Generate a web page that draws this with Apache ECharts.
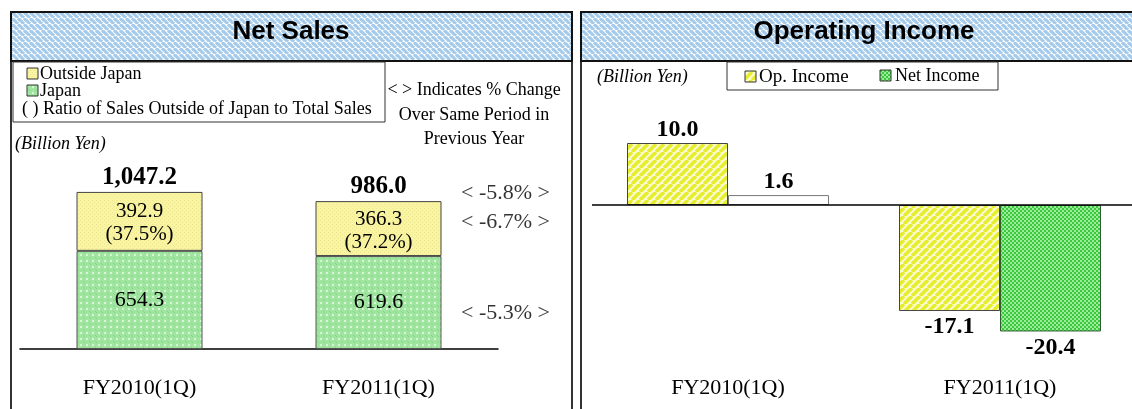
<!DOCTYPE html>
<html>
<head>
<meta charset="utf-8">
<script src="https://cdn.jsdelivr.net/npm/echarts@6/dist/echarts.min.js"></script>
<style>
  html, body { margin: 0; padding: 0; background: #fff; }
  #chart { width: 1132px; height: 409px; }
</style>
</head>
<body>
<div id="chart"></div>
<script>
const categories = ['FY2010(1Q)', 'FY2011(1Q)']
const outsideJapan = [392.9, 366.3]
const japan = [654.3, 619.6]
const totalSales = [1047.2, 986.0]
const outsideRatio = ['37.5%', '37.2%']
// total, outside japan, japan
const salesChange = ['-5.8%', '-6.7%', '-5.3%']
const opIncome = [10.0, -17.1]
const netIncome = [1.6, -20.4]

const SERIF = 'Liberation Serif'
const SANS = 'Liberation Sans'

// small canvas tiles used as fill patterns
function pattern(size, bg, draw) {
  const c = document.createElement('canvas')
  c.width = size
  c.height = size
  const g = c.getContext('2d')
  g.fillStyle = bg
  g.fillRect(0, 0, size, size)
  draw(g, size)
  return { image: c, repeat: 'repeat' }
}

function stripes(size, bg, fg, width, dir) {
  return pattern(size, bg, (g, s) => {
    g.strokeStyle = fg
    g.lineWidth = width
    for (let k = -1; k <= 1; k++) {
      g.beginPath()
      if (dir > 0) {
        g.moveTo(k * s, s)
        g.lineTo(k * s + s, 0)
      } else {
        g.moveTo(k * s, 0)
        g.lineTo(k * s + s, s)
      }
      g.stroke()
    }
  })
}

const titleFill = stripes(6, '#ffffff', '#a6cbea', 3.2, -1)
const opFill = stripes(8, '#fbfbd2', '#e6ee2c', 3.6, 1)
const outsideFill = pattern(4, '#f9f4a2', (g) => {
  g.fillStyle = '#ede68e'
  g.fillRect(0, 0, 1, 1)
  g.fillRect(2, 2, 1, 1)
})
const japanFill = pattern(6, '#9fe49f', (g) => {
  g.fillStyle = '#d6f6d6'
  g.fillRect(2, 2, 2, 2)
  g.fillStyle = '#86d486'
  g.fillRect(0, 0, 1, 1)
  g.fillRect(5, 5, 1, 1)
})
const netFill = pattern(4, '#3cc83c', (g) => {
  g.fillStyle = '#9aeb9a'
  g.fillRect(0, 0, 2, 2)
  g.fillRect(2, 2, 2, 2)
})

function fmt(v) {
  return v.toLocaleString('en-US', { minimumFractionDigits: 1, maximumFractionDigits: 1 })
}

const bigBold = { fontFamily: SERIF, fontWeight: 'bold', fontSize: 24, color: '#000' }
const plain = { fontFamily: SERIF, fontSize: 21, color: '#000' }

const chart = echarts.init(document.getElementById('chart'))

const option = {
  animation: false,
  grid: [
    { left: 20, width: 478, top: 139, height: 210, outerBoundsMode: 'none' },
    { left: 592, width: 544, top: 112, height: 248, outerBoundsMode: 'none' }
  ],
  xAxis: [
    {
      gridIndex: 0,
      type: 'category',
      data: categories,
      axisTick: { show: false },
      axisLine: { lineStyle: { color: '#000', width: 1.5 } },
      axisLabel: { margin: 28, fontFamily: SERIF, fontSize: 22, color: '#000' }
    },
    {
      gridIndex: 1,
      type: 'category',
      data: categories,
      axisTick: { show: false },
      axisLine: { show: false, onZero: false },
      axisLabel: { margin: 17, fontFamily: SERIF, fontSize: 22, color: '#000' }
    }
  ],
  yAxis: [
    { gridIndex: 0, type: 'value', min: 0, max: 1400, show: false },
    { gridIndex: 1, type: 'value', min: -25, max: 15, show: false }
  ],
  series: [
    {
      name: 'Japan',
      type: 'bar',
      xAxisIndex: 0,
      yAxisIndex: 0,
      stack: 'sales',
      barWidth: 126,
      data: japan,
      itemStyle: { color: japanFill, borderColor: '#555', borderWidth: 1 },
      label: { show: true, position: 'inside', ...plain, fontSize: 22, formatter: (p) => fmt(p.value) }
    },
    {
      name: 'Outside Japan',
      type: 'bar',
      xAxisIndex: 0,
      yAxisIndex: 0,
      stack: 'sales',
      barWidth: 126,
      data: outsideJapan,
      itemStyle: { color: outsideFill, borderColor: '#444', borderWidth: 1 },
      label: {
        show: true,
        position: 'inside',
        ...plain,
        lineHeight: 23,
        offset: [0, 2],
        formatter: (p) => fmt(p.value) + '\n(' + outsideRatio[p.dataIndex] + ')'
      }
    },
    {
      name: 'Total',
      type: 'bar',
      xAxisIndex: 0,
      yAxisIndex: 0,
      barWidth: 126,
      barGap: '-100%',
      silent: true,
      data: totalSales,
      itemStyle: { color: 'rgba(0,0,0,0)' },
      label: { show: true, position: 'top', distance: 2, ...bigBold, fontSize: 25, formatter: (p) => fmt(p.value) }
    },
    {
      name: 'Change',
      type: 'scatter',
      xAxisIndex: 0,
      yAxisIndex: 0,
      symbolSize: 0,
      silent: true,
      data: [
        { value: [1, totalSales[1]], label: { offset: [127, -8] } },
        { value: [1, japan[1] + outsideJapan[1] / 2], label: { offset: [127, -6] } },
        { value: [1, japan[1] / 2], label: { offset: [127, 11] } }
      ],
      label: {
        show: true,
        position: 'inside',
        ...plain,
        fontSize: 22,
        formatter: (p) => '< ' + salesChange[p.dataIndex] + ' >'
      }
    },
    {
      name: 'Op. Income',
      type: 'bar',
      xAxisIndex: 1,
      yAxisIndex: 1,
      barWidth: 101,
      barGap: '0%',
      data: opIncome,
      itemStyle: { color: opFill, borderColor: '#444', borderWidth: 1 },
      label: {
        show: true,
        ...bigBold,
        formatter: (p) => fmt(p.value),
        position: 'top',
        distance: 1
      },
      labelLayout: (p) => null,
      markLine: {
        silent: true,
        symbol: 'none',
        label: { show: false },
        lineStyle: { color: '#000', width: 1.5, type: 'solid' },
        data: [{ yAxis: 0 }]
      }
    },
    {
      name: 'Net Income',
      type: 'bar',
      xAxisIndex: 1,
      yAxisIndex: 1,
      barWidth: 101,
      barGap: '0%',
      data: netIncome.map((v, i) => (v >= 0
        ? { value: v, itemStyle: { color: '#ffffff', borderColor: '#777' } }
        : { value: v })),
      itemStyle: { color: netFill, borderColor: '#2f5f2f', borderWidth: 1 },
      label: { show: true, ...bigBold, formatter: (p) => fmt(p.value), position: 'top', distance: 1 }
    }
  ],
  graphic: [
    // panel frames
    { type: 'line', shape: { x1: 11, y1: 61, x2: 11, y2: 409 }, style: { stroke: '#333', lineWidth: 2 } },
    { type: 'line', shape: { x1: 572, y1: 61, x2: 572, y2: 409 }, style: { stroke: '#333', lineWidth: 2 } },
    { type: 'line', shape: { x1: 581, y1: 61, x2: 581, y2: 409 }, style: { stroke: '#333', lineWidth: 2 } },
    // title bars
    { type: 'rect', shape: { x: 11, y: 12, width: 561, height: 49 }, style: { fill: titleFill, stroke: '#111', lineWidth: 2 } },
    { type: 'rect', shape: { x: 581, y: 12, width: 560, height: 49 }, style: { fill: titleFill, stroke: '#111', lineWidth: 2 } },
    { type: 'text', x: 291, y: 32, style: { text: 'Net Sales', font: 'bold 26px ' + SANS, fill: '#000', align: 'center', verticalAlign: 'middle' } },
    { type: 'text', x: 864, y: 32, style: { text: 'Operating Income', font: 'bold 26px ' + SANS, fill: '#000', align: 'center', verticalAlign: 'middle' } },

    // net sales legend
    { type: 'rect', shape: { x: 13, y: 62, width: 372, height: 60 }, style: { fill: '#fff', stroke: '#333', lineWidth: 1 } },
    { type: 'rect', shape: { x: 27, y: 68, width: 11, height: 11 }, style: { fill: outsideFill, stroke: '#333', lineWidth: 1 } },
    { type: 'rect', shape: { x: 27, y: 85, width: 11, height: 11 }, style: { fill: japanFill, stroke: '#333', lineWidth: 1 } },
    { type: 'text', x: 40, y: 74, style: { text: 'Outside Japan', font: '18px ' + SERIF, fill: '#000', verticalAlign: 'middle' } },
    { type: 'text', x: 40, y: 91, style: { text: 'Japan', font: '18px ' + SERIF, fill: '#000', verticalAlign: 'middle' } },
    { type: 'text', x: 22, y: 109, style: { text: '( ) Ratio of Sales Outside of Japan to Total Sales', font: '18px ' + SERIF, fill: '#000', verticalAlign: 'middle' } },
    { type: 'text', x: 474, y: 90, style: { text: '< > Indicates % Change', font: '18px ' + SERIF, fill: '#000', align: 'center', verticalAlign: 'middle' } },
    { type: 'text', x: 474, y: 115, style: { text: 'Over Same Period in', font: '18px ' + SERIF, fill: '#000', align: 'center', verticalAlign: 'middle' } },
    { type: 'text', x: 474, y: 139, style: { text: 'Previous Year', font: '18px ' + SERIF, fill: '#000', align: 'center', verticalAlign: 'middle' } },
    { type: 'text', x: 15, y: 144, style: { text: '(Billion Yen)', font: 'italic 18px ' + SERIF, fill: '#000', verticalAlign: 'middle' } },

    // operating income legend
    { type: 'text', x: 597, y: 77, style: { text: '(Billion Yen)', font: 'italic 18px ' + SERIF, fill: '#000', verticalAlign: 'middle' } },
    { type: 'rect', shape: { x: 727, y: 62, width: 271, height: 28 }, style: { fill: '#fff', stroke: '#333', lineWidth: 1 } },
    { type: 'rect', shape: { x: 745, y: 71, width: 11, height: 11 }, style: { fill: opFill, stroke: '#333', lineWidth: 1 } },
    { type: 'rect', shape: { x: 880, y: 70, width: 11, height: 11 }, style: { fill: netFill, stroke: '#333', lineWidth: 1 } },
    { type: 'text', x: 759, y: 77, style: { text: 'Op. Income', font: '19px ' + SERIF, fill: '#000', verticalAlign: 'middle' } },
    { type: 'text', x: 895, y: 76, style: { text: 'Net Income', font: '18px ' + SERIF, fill: '#000', verticalAlign: 'middle' } }
  ]
}

// negative bars get their value under the bar
option.series.forEach((s) => {
  if (s.xAxisIndex === 1) {
    const src = s === option.series[4] ? opIncome : netIncome
    s.data = s.data.map((d, i) => {
      const item = typeof d === 'object' ? d : { value: d }
      if (src[i] < 0) item.label = { position: 'bottom', distance: 4 }
      return item
    })
    delete s.labelLayout
  }
})

chart.setOption(option)
</script>
</body>
</html>
